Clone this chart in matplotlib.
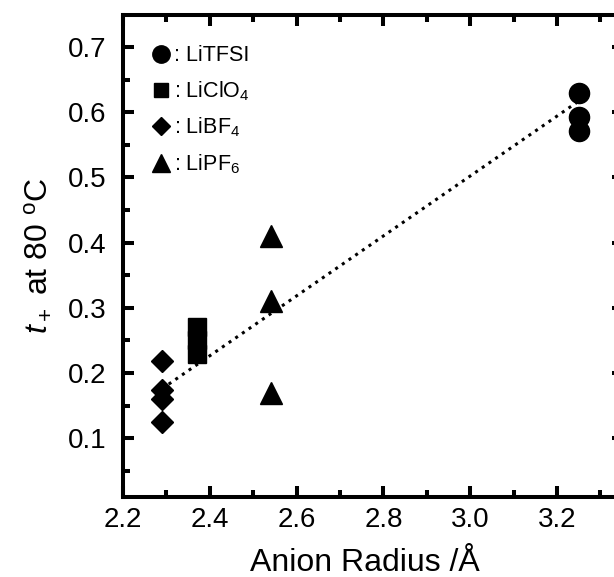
import matplotlib
matplotlib.use('Agg')
import matplotlib.pyplot as plt
from matplotlib.lines import Line2D
from matplotlib.ticker import MultipleLocator

plt.rcParams['font.family'] = ['Liberation Sans', 'DejaVu Sans']
plt.rcParams['mathtext.fontset'] = 'custom'
plt.rcParams['mathtext.rm'] = 'Liberation Sans'
plt.rcParams['mathtext.it'] = 'Liberation Sans:italic'

# anion radius (A) and t+ at 80 C
tfsi_x = [3.25, 3.25, 3.25]
tfsi_y = [0.63, 0.593, 0.571]
clo4_x = [2.37, 2.37, 2.37]
clo4_y = [0.23, 0.25, 0.27]
bf4_x = [2.29, 2.29, 2.29, 2.29]
bf4_y = [0.218, 0.174, 0.161, 0.125]
pf6_x = [2.54, 2.54, 2.54]
pf6_y = [0.41, 0.31, 0.169]

# dotted trend line end points
fit_x = [2.29, 3.25]
fit_y = [0.176, 0.617]

labels = [': LiTFSI', ': LiClO$_4$', ': LiBF$_4$', ': LiPF$_6$']

fig = plt.figure(figsize=(6.14, 5.77), dpi=100)
ax = fig.add_axes([123/614, 80/577, 500/614, 482/577])

ax.plot(fit_x, fit_y, ':', color='black', lw=2.2, zorder=3)
ax.plot(tfsi_x, tfsi_y, 'o', color='black', ms=14.5, zorder=2)
ax.plot(clo4_x, clo4_y, 's', color='black', ms=13.5, zorder=2)
ax.plot(bf4_x, bf4_y, 'D', color='black', ms=11.5, zorder=2)
ax.plot(pf6_x, pf6_y, '^', color='black', ms=16, zorder=2)

ax.set_xlim(2.2, 3.352)
ax.set_ylim(0.01, 0.749)
ax.xaxis.set_major_locator(MultipleLocator(0.2))
ax.xaxis.set_minor_locator(MultipleLocator(0.1))
ax.yaxis.set_major_locator(MultipleLocator(0.1))
ax.yaxis.set_minor_locator(MultipleLocator(0.05))
ax.xaxis.set_major_formatter(matplotlib.ticker.FormatStrFormatter('%.1f'))

for s in ax.spines.values():
    s.set_linewidth(2.9)
ax.tick_params(which='both', direction='in', top=True, right=True, labelsize=20)
ax.tick_params(which='major', length=8, width=2.9)
ax.tick_params(which='minor', length=5, width=2.9)
ax.tick_params(axis='x', which='major', pad=7)
ax.tick_params(axis='y', which='major', pad=12)

ax.set_xlabel('Anion Radius /Å', fontsize=23)
ax.xaxis.set_label_coords((365 - 123) / 500, -0.105)
ax.set_ylabel(r'$\mathit{t}_+$ at 80 $^{\mathrm{o}}$C', fontsize=23, labelpad=10)

handles = [
    Line2D([], [], marker='o', color='black', ls='none', ms=12.5),
    Line2D([], [], marker='s', color='black', ls='none', ms=10),
    Line2D([], [], marker='D', color='black', ls='none', ms=9.5),
    Line2D([], [], marker='^', color='black', ls='none', ms=13),
]
ax.legend(handles, labels, loc='upper left', frameon=False, fontsize=15.5,
          handlelength=0.9, handletextpad=0.15, labelspacing=0.6,
          borderaxespad=0.0, bbox_to_anchor=(0.04, 0.955))

fig.savefig('out.png', dpi=100)
